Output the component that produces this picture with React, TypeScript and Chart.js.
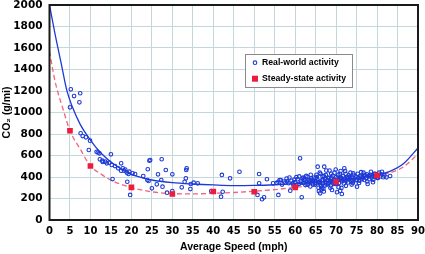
import React, { useEffect, useRef } from "react";
import { Chart, registerables } from "chart.js";

Chart.register(...registerables);

// Real-world activity (blue hollow circles)
const realSpeed = [
  5.0, 5.2, 6.0, 7.3, 7.5, 7.6, 8.1, 8.9, 9.9, 9.6,
  11.5, 11.8, 12.2, 15.0, 12.3, 12.9, 13.6, 14.0, 14.6, 15.2,
  13.0, 17.5, 16.0, 16.8, 17.9, 18.2, 18.9, 19.3, 20.3, 20.9,
  17.5, 18.5, 19.5, 15.4, 19.0, 19.7,
  24.4, 24.6, 22.9, 23.9, 24.2, 24.0, 27.4, 26.5, 25.0, 26.2,
  27.3, 27.6, 28.4, 28.7, 30.0, 30.0, 32.3, 33.3, 33.0, 33.5,
  33.4, 34.4, 34.5, 35.2, 36.2, 39.5, 41.9, 42.3, 42.1, 44.1,
  46.4, 50.8, 51.2, 51.2, 51.9, 52.4, 53.1, 54.6, 55.9, 55.9,
  56.5, 57.6,
  55.5, 56.2, 56.8, 57.3, 57.9, 58.4, 58.8, 59.1, 59.6, 60.0,
  60.3, 60.6, 60.9, 61.2, 61.4, 61.6, 61.8, 62.0, 62.3, 62.5,
  62.8, 63.0, 63.2, 63.5, 63.7, 63.9, 64.1, 64.4, 64.6, 64.8,
  65.0, 65.2, 65.4, 65.5, 65.7, 65.9, 66.0, 66.1, 66.2, 66.4,
  66.5, 66.7, 66.8, 67.0, 67.1, 67.2, 67.4, 67.5, 67.7, 67.9,
  68.0, 68.2, 68.4, 68.5, 68.7, 68.9, 69.0, 69.1, 69.3, 69.5,
  69.6, 69.8, 70.0, 70.2, 70.3, 70.5, 70.7, 70.8, 71.0, 71.1,
  71.2, 71.4, 71.5, 71.7, 71.9, 72.0, 72.1, 72.3, 72.5, 72.7,
  72.9, 73.1, 73.3, 73.5, 73.7, 73.9, 74.1, 74.3, 74.5, 74.7,
  74.9, 75.1, 75.3, 75.5, 75.7, 75.9, 76.1, 76.3, 76.5, 76.7,
  76.9, 77.1, 77.3, 77.5, 77.7, 77.9, 78.1, 78.3, 78.5, 78.7,
  78.9, 79.1, 79.3, 79.6, 79.9, 80.2, 80.5, 80.8, 81.0, 81.2,
  81.5, 81.8, 82.3, 83.2,
  62.0, 63.0, 64.0, 65.0, 66.0, 67.0, 68.0, 69.0, 70.0, 71.0,
  72.0, 73.0, 74.0, 66.3, 66.6, 66.9, 67.3, 65.8, 68.6, 70.6,
  71.3, 72.4, 73.8, 75.6, 77.6, 79.0,
  58.0, 58.6, 59.4, 59.8, 60.5, 61.0, 61.5, 62.2, 62.7, 63.3,
  63.8, 64.3, 64.9, 65.3, 65.6, 66.2, 66.8, 67.6, 68.3, 68.8,
  69.4, 69.9, 70.4, 70.9, 71.6, 72.2, 72.8, 73.4, 74.2, 75.0,
  76.0, 76.8, 78.0, 79.5, 80.0
];
const realCO2 = [
  1048, 1216, 1153, 1095, 1179, 807, 781, 769, 738, 651,
  635, 628, 620, 611, 564, 552, 543, 527, 533, 512,
  540, 527, 502, 481, 481, 459, 440, 428, 434, 428,
  459, 470, 450, 381, 356, 233,
  552, 558, 409, 372, 363, 472, 565, 425, 295, 332,
  372, 310, 465, 254, 425, 270, 304, 388, 356, 481,
  465, 288, 335, 347, 341, 270, 217, 263, 419, 388,
  449, 233, 428, 341, 193, 211, 379, 341, 233, 356,
  372, 347,
  345, 372, 330, 358, 385, 342, 273, 365, 318, 352,
  398, 380, 335, 574, 362, 211, 390, 345, 372, 325,
  358, 402, 340, 368, 312, 385, 350, 330, 395, 362,
  345, 420, 378, 496, 300, 355, 440, 248, 330, 285,
  370, 405, 340, 265, 496, 385, 352, 418, 330, 372,
  395, 345, 460, 360, 320, 388, 279, 410, 350, 375,
  440, 335, 398, 258, 365, 420, 345, 380, 273, 455,
  395, 242, 360, 410, 340, 481, 385, 430, 365, 400,
  350, 415, 378, 440, 360, 395, 345, 420, 385, 405,
  370, 310, 430, 392, 365, 410, 445, 380, 398, 440,
  372, 415, 390, 425, 335, 405, 380, 420, 449, 395,
  412, 375, 430, 400, 418, 390, 440, 405, 425, 449,
  398, 415, 397, 409,
  395, 330, 372, 390, 352, 410, 335, 362, 340, 388,
  372, 395, 360, 315, 300, 290, 322, 268, 300, 305,
  298, 318, 330, 345, 358, 352,
  360, 395, 340, 375, 330, 405, 348, 380, 410, 355,
  420, 365, 330, 398, 350, 430, 375, 460, 390, 430,
  335, 470, 390, 430, 375, 455, 385, 400, 435, 375,
  395, 420, 410, 430, 395
];

// Steady-state activity (red squares)
const steadySpeed = [5, 10, 20, 30, 40, 50, 60, 70, 80];
const steadyCO2 = [830, 502, 304, 242, 265, 263, 304, 356, 415];

// Fitted curve through real-world activity (blue solid)
const realFitSpeed = [0, 1.3, 3, 4.2, 5.5, 7.5, 10, 12.5, 15, 17.5, 20, 22.5, 25, 30, 35, 40, 45, 50, 55, 60, 65, 70, 75, 80, 83, 86.5, 90];
const realFitCO2 = [2000, 1740, 1430, 1210, 1060, 890, 744, 625, 540, 475, 425, 395, 372, 348, 335, 326, 320, 322, 328, 338, 350, 365, 388, 420, 450, 525, 670];

// Fitted curve through steady-state activity (red dashed)
const steadyFitSpeed = [0, 1.3, 3.4, 5, 7.5, 10, 12.5, 15, 20, 25, 30, 35, 40, 45, 50, 55, 60, 65, 70, 75, 80, 83, 86.5, 90];
const steadyFitCO2 = [1570, 1300, 1020, 830, 660, 502, 430, 370, 302, 262, 246, 243, 248, 256, 268, 283, 303, 325, 352, 380, 413, 437, 495, 615];

const legendLabels = ["Real-world activity", "Steady-state activity"];
const xTitle = "Average Speed (mph)";
const yTitle = "CO\u2082 (g/mi)";

const BLUE = "#1d3ad6";
const RED = "#ee1b3c";
const RED_LINE = "#f0657f";
const GRID = "#c6d7db";

const toPts = (xs: number[], ys: number[]) => xs.map((x, i) => ({ x, y: ys[i] }));

const framePlugin = {
  id: "frameLegend",
  afterDraw(chart: any) {
    const { ctx, chartArea: a } = chart;
    ctx.save();
    ctx.strokeStyle = "#1a1a1a";
    ctx.lineWidth = 2;
    ctx.strokeRect(a.left, a.top, a.right - a.left, a.bottom - a.top);

    const lx = Math.round(a.left + 195.5);
    const ly = Math.round(a.top + 49);
    const lw = 107;
    const lh = 33;
    ctx.fillStyle = "#ffffff";
    ctx.fillRect(lx, ly, lw, lh);
    ctx.strokeStyle = "#8a8a8a";
    ctx.lineWidth = 1;
    ctx.strokeRect(lx + 0.5, ly + 0.5, lw, lh);

    ctx.beginPath();
    ctx.arc(lx + 10, ly + 8.7, 1.8, 0, Math.PI * 2);
    ctx.strokeStyle = BLUE;
    ctx.lineWidth = 1.1;
    ctx.stroke();
    ctx.fillStyle = RED;
    ctx.fillRect(lx + 7, ly + 21.7, 6, 6);

    ctx.fillStyle = "#000";
    ctx.font = "bold 8.7px 'Liberation Sans', Arial, sans-serif";
    ctx.textBaseline = "middle";
    ctx.textAlign = "left";
    ctx.fillText(legendLabels[0], lx + 17, ly + 9);
    ctx.fillText(legendLabels[1], lx + 17, ly + 25);
    ctx.restore();
  },
};

const plain = (v: any) => String(v);

export default function App() {
  const ref = useRef<HTMLCanvasElement | null>(null);

  useEffect(() => {
    document.body.style.margin = "0";
    const canvas = ref.current;
    if (!canvas) return;
    const chart = new Chart(canvas, {
      type: "scatter",
      data: {
        datasets: [
          {
            label: legendLabels[1],
            data: toPts(steadySpeed, steadyCO2),
            pointStyle: "rect",
            pointRadius: 4,
            pointHoverRadius: 4,
            pointBackgroundColor: RED,
            pointBorderWidth: 0,
            borderColor: RED,
            backgroundColor: RED,
          },
          {
            label: legendLabels[0],
            data: toPts(realSpeed, realCO2),
            pointStyle: "circle",
            pointRadius: 1.8,
            pointHoverRadius: 1.8,
            pointBorderWidth: 1.1,
            pointBorderColor: BLUE,
            pointBackgroundColor: "rgba(0,0,0,0)",
            borderColor: BLUE,
            backgroundColor: "rgba(0,0,0,0)",
          },
          {
            label: "real fit",
            data: toPts(realFitSpeed, realFitCO2),
            showLine: true,
            pointRadius: 0,
            pointHoverRadius: 0,
            borderColor: BLUE,
            borderWidth: 1.3,
            cubicInterpolationMode: "monotone",
          } as any,
          {
            label: "steady fit",
            data: toPts(steadyFitSpeed, steadyFitCO2),
            showLine: true,
            pointRadius: 0,
            pointHoverRadius: 0,
            borderColor: RED_LINE,
            borderWidth: 1.3,
            borderDash: [5, 3],
            cubicInterpolationMode: "monotone",
          } as any,
        ],
      },
      options: {
        animation: false,
        responsive: false,
        devicePixelRatio: 1,
        events: [],
        layout: { autoPadding: false, padding: 0 },
        plugins: {
          legend: { display: false },
          tooltip: { enabled: false },
        },
        scales: {
          x: {
            type: "linear",
            min: 0,
            max: 90,
            grid: { color: GRID, lineWidth: 1, drawTicks: false },
            border: { display: false },
            afterFit: (s: any) => {
              s.height = 34;
              s.paddingLeft = 3;
              s.paddingRight = 7;
            },
            ticks: {
              stepSize: 5,
              autoSkip: false,
              maxRotation: 0,
              padding: 5.5,
              color: "#000",
              callback: plain,
              font: { family: "'DejaVu Sans', sans-serif", weight: "bold", size: 10, lineHeight: 1.2 },
            },
            title: {
              display: true,
              text: xTitle,
              color: "#000",
              font: { family: "'Liberation Sans', Arial, sans-serif", weight: "bold", size: 10.5, lineHeight: 1.2 },
              padding: { top: 3, bottom: 1 },
            },
          },
          y: {
            type: "linear",
            min: 0,
            max: 2000,
            grid: { color: GRID, lineWidth: 1, drawTicks: false },
            border: { display: false },
            afterFit: (s: any) => {
              s.width = 49.5;
              s.paddingTop = 5;
              s.paddingBottom = 5;
            },
            ticks: {
              stepSize: 200,
              padding: 7,
              color: "#000",
              callback: plain,
              font: { family: "'DejaVu Sans', sans-serif", weight: "bold", size: 10.5, lineHeight: 1.0 },
            },
            title: {
              display: true,
              text: yTitle,
              color: "#000",
              font: { family: "'Liberation Sans', 'DejaVu Sans', Arial, sans-serif", weight: "bold", size: 10.5, lineHeight: 1.2 },
              padding: { top: 1, bottom: 1 },
            },
          },
        },
      },
      plugins: [framePlugin],
    });
    return () => chart.destroy();
  }, []);

  return (
    <div style={{ width: 425, height: 254, background: "#fff" }}>
      <canvas ref={ref} width={425} height={254} style={{ display: "block" }} />
    </div>
  );
}
